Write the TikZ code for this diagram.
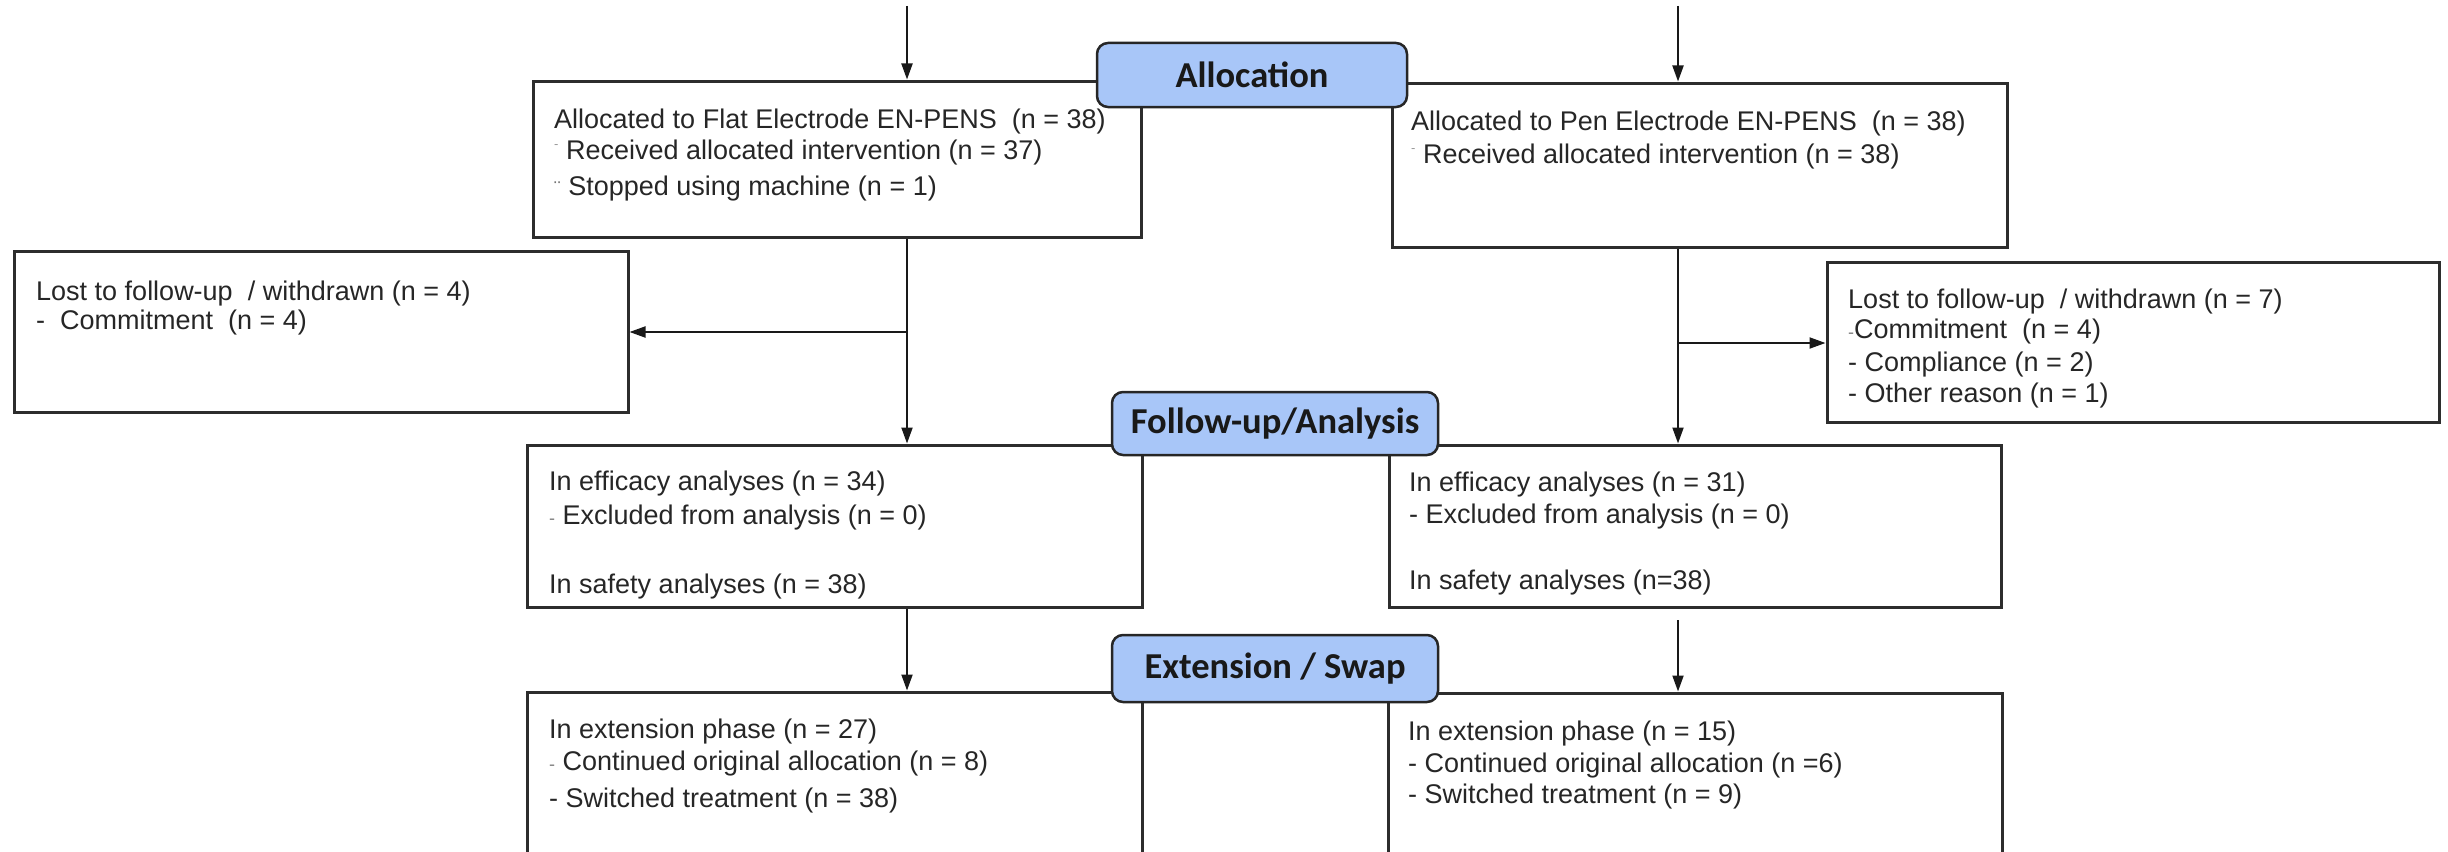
\documentclass[tikz,border=0pt]{standalone}
\usepackage{fontspec}
\setmainfont{Liberation Sans}
\newfontfamily\labfont{Carlito}
\usetikzlibrary{arrows.meta}
\definecolor{labblue}{RGB}{168,198,248}
\definecolor{boxline}{RGB}{45,45,45}
\newcommand\myhidash{\textcolor{black!40}{\raisebox{0.38em}{\fontsize{13}{13}\selectfont -}}}
\newcommand\mylodash{\textcolor{black!50}{\fontsize{18}{18}\selectfont -}}
\newcommand\mydieres{\textcolor{black!55}{\fontsize{20}{20}\selectfont ¨}}
\begin{document}
\begin{tikzpicture}[x=1pt,y=-1pt,
  box/.style={draw=boxline, line width=3pt, rectangle, inner sep=0pt},
  labelbox/.style={draw=black!85, line width=2.5pt, fill=labblue, rounded corners=11pt, inner sep=0pt, font=\labfont\bfseries\fontsize{36.5}{40}\selectfont, text=black!90},
  txt/.style={anchor=north west, inner sep=0pt, align=left, font=\fontsize{27}{33}\selectfont, text=black!85},
  arr/.style={line width=2pt, draw=black!90, -{Triangle[length=16pt,width=11pt]}},
]
\useasboundingbox (0,0) rectangle (2448,851);
\clip (0,0) rectangle (2448,851);

% boxes
\node[box, minimum width=608pt, minimum height=156pt] (A1) at (837,159) {};
\node[box, minimum width=615pt, minimum height=164pt] (A2) at (1699.5,165) {};
\node[box, minimum width=614pt, minimum height=161pt] (L1) at (321,331.5) {};
\node[box, minimum width=612pt, minimum height=160pt] (L2) at (2133,342) {};
\node[box, minimum width=615pt, minimum height=162pt] (F1) at (834.5,526) {};
\node[box, minimum width=612pt, minimum height=162pt] (F2) at (1695,526) {};
\node[box, minimum width=615pt, minimum height=208pt] (E1) at (834.5,796) {};
\node[box, minimum width=614pt, minimum height=207pt] (E2) at (1695,796.5) {};

% connectors
\coordinate (tl) at (907,6);
\coordinate (tr) at (1678,6);
\coordinate (bl) at (907,332);
\coordinate (br) at (1678,343);
\coordinate (gr) at (1678,620);
\draw[arr] (tl) -- (tl |- A1.north);
\draw[arr] (A1.south -| tl) -- (F1.north -| tl);
\draw[arr] (bl) -- (bl -| L1.east);
\draw[arr] (F1.south -| tl) -- (E1.north -| tl);
\draw[arr] (tr) -- (tr |- A2.north);
\draw[arr] (A2.south -| tr) -- (F2.north -| tr);
\draw[arr] (br) -- (br -| L2.west);
\draw[arr] (gr) -- (gr |- E2.north);

% stage labels
\node[labelbox, minimum width=310pt, minimum height=64pt] (lab1) at (1252,75) {Allocation};
\node[labelbox, minimum width=326pt, minimum height=63pt] (lab2) at (1275,423.5) {Follow-up/Analysis};
\node[labelbox, minimum width=326pt, minimum height=67pt] (lab3) at (1275,668.5) {Extension / Swap};

% texts
\node[txt] (A1t) at (554,104.9) {\strut Allocated to Flat Electrode EN-PENS\ \ (n = 38)\\[-2pt]
  \myhidash\ Received allocated intervention (n = 37)\\[3pt]
  \mydieres\ Stopped using machine (n = 1)};
\node[txt] (A2t) at (1411,106.9) {\strut Allocated to Pen Electrode EN-PENS\ \ (n = 38)\\
  \myhidash\ Received allocated intervention (n = 38)};
\node[txt] (L1t) at (36,276.9) {\strut Lost to follow-up\ \ / withdrawn (n = 4)\\[-4pt]
  -\ \ Commitment\ \ (n = 4)};
\node[txt] (L2t) at (1848,284.9) {\strut Lost to follow-up\ \ / withdrawn (n = 7)\\[-3pt]
  \mylodash Commitment\ \ (n = 4)\\
  - Compliance (n = 2)\\[-2pt]
  - Other reason (n = 1)};
\node[txt] (F1t) at (549,466.9) {\strut In efficacy analyses (n = 34)\\[1pt]
  \mylodash\ Excluded from analysis (n = 0)\\[36pt]
  In safety analyses (n = 38)};
\node[txt] (F2t) at (1409,467.9) {\strut In efficacy analyses (n = 31)\\[-1pt]
  - Excluded from analysis (n = 0)\\[33pt]
  In safety analyses (n=38)};
\node[txt] (E1t) at (549,714.9) {\strut In extension phase (n = 27)\\[-1pt]
  \mylodash\ Continued original allocation (n = 8)\\[4pt]
  - Switched treatment (n = 38)};
\node[txt] (E2t) at (1408,716.9) {\strut In extension phase (n = 15)\\[-1pt]
  - Continued original allocation (n =6)\\[-2pt]
  - Switched treatment (n = 9)};
\end{tikzpicture}
\end{document}
